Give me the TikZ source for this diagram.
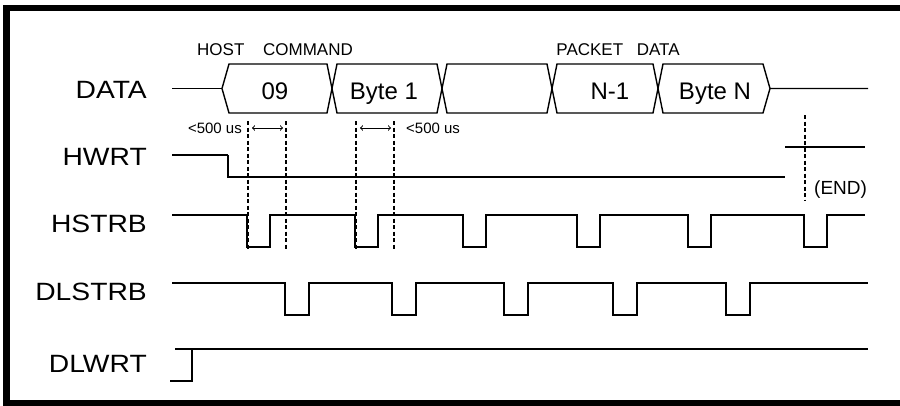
\documentclass[tikz,border=0pt]{standalone}
\usepackage{fontspec}
\usepackage{graphicx}
\setmainfont{Liberation Sans}
\newcommand\wide[1]{\scalebox{1.13}[1]{#1}}
\begin{document}
\begin{tikzpicture}[x=1pt,y=-1pt,
sig/.style={line width=1.4pt},
thick sig/.style={line width=2.4pt},
tim/.style={line width=1.5pt,dash pattern=on 4pt off 2.5pt},
lbl/.style={anchor=base east,inner sep=0pt,font=\fontsize{25}{25}\selectfont},
val/.style={anchor=base,inner sep=0pt,font=\fontsize{24}{24}\selectfont},
note/.style={anchor=base,inner sep=0pt,font=\fontsize{17}{17}\selectfont},
small/.style={inner sep=0pt,font=\fontsize{15}{15}\selectfont}]
\useasboundingbox(0,0)rectangle(900,405);
\draw[line width=6.5pt](6.5,8)rectangle(930,403);
% signal names
\node[lbl](data)at(147,98){\wide{DATA}};
\node[lbl](hwrt)at(147,165){\wide{HWRT}};
\node[lbl](hstrb)at(147,232){\wide{HSTRB}};
\node[lbl](dlstrb)at(147,300){\wide{DLSTRB}};
\node[lbl](dlwrt)at(147,372){\wide{DLWRT}};
% data bus
\draw[sig](172,88.5)--(222,88.5);
\draw[sig](222,88.5)--(229,64)\foreach\c in{332,442,552,658}{--(\c-5,64)--(\c,88.5)--(\c+5,64)}--(763,64)--(770,88.5)--(868,88.5);
\draw[sig](222,88.5)--(229,113)\foreach\c in{332,442,552,658}{--(\c-5,113)--(\c,88.5)--(\c+5,113)}--(763,113)--(770,88.5);
\node[val](b09)at(275,99){09};
\node[val](b1)at(384,99){Byte 1};
\node[val](bn1)at(610,99){N-1};
\node[val](bn)at(715,99){Byte N};
\node[note](host)at(275,55){HOST\hspace{1.1em}COMMAND};
\node[note](pkt)at(618,55){PACKET\hspace{0.8em}DATA};
% timing marks
\foreach\x[count=\i]in{248,286,356,394}{\draw[tim](\x,121)--(\x,249);\coordinate(t\i)at(\x,128);}
\draw[<->,line width=1pt]([xshift=4pt]t1)--([xshift=-3pt]t2);
\draw[<->,line width=1pt]([xshift=4pt]t3)--([xshift=-3pt]t4);
\node[small,anchor=base east](lim1)at(242,133){<500 us};
\node[small,anchor=base west](lim2)at(406,133){<500 us};
\draw[tim](805,115)--(805,201);
\node[note,anchor=base west,font=\fontsize{19}{19}\selectfont](fin)at(814,194){(END)};
% strobes
\draw[sig](172,155)--(228,155);
\draw[thick sig](228,155)|-(785,177);
\draw[sig](785,147)--(865,147);
\draw[sig](172,215)\foreach\x in{247,355,463,577,688,804}{-|(\x,247)-|(\x+23,215)}--(865,215);
\draw[thick sig](172,283)\foreach\x in{285,392,504,613,726}{-|(\x,315)-|(\x+24,283)}--(868,283);
\draw[sig](170,381)-|(192,349)--(868,349);
\draw[sig](175,349)--(192,349);
\end{tikzpicture}
\end{document}
